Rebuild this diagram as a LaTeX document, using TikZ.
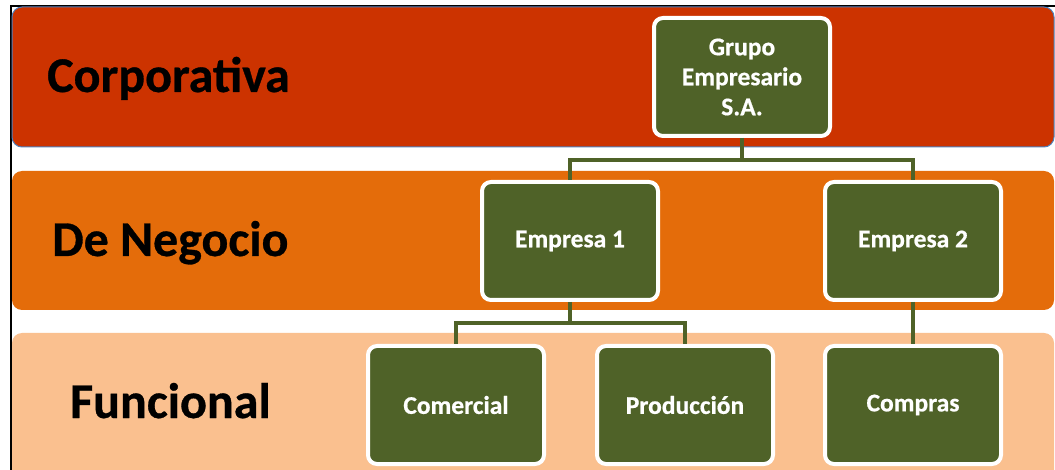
\documentclass[tikz,border=0pt]{standalone}
\usepackage{fontspec}
\newfontfamily\calib{Carlito}[FakeBold=0.6]
\definecolor{bandred}{RGB}{204,51,0}
\definecolor{bandorange}{RGB}{228,108,10}
\definecolor{bandpeach}{RGB}{250,192,143}
\definecolor{boxgreen}{RGB}{79,98,40}
\definecolor{bandline}{RGB}{79,129,189}
\tikzset{
  orgbox/.style={draw=white, line width=4pt, fill=boxgreen, rounded corners=9pt,
    minimum width=176pt, minimum height=118pt, inner sep=0pt,
    text=white, font=\calib\bfseries\fontsize{25.5}{30}\selectfont, align=center},
  conn/.style={draw=boxgreen, line width=4pt},
  level/.style={anchor=base west, text=black, font=\calib\bfseries\fontsize{50}{58}\selectfont, inner sep=0pt},
  band/.style={rounded corners=10pt}
}
\begin{document}
\begin{tikzpicture}[x=1pt,y=-1pt]
\useasboundingbox (0,0) rectangle (1055,470);
\clip (0,0) rectangle (1055,470);
\fill[white] (0,0) rectangle (1055,470);
% frame lines
\draw[black, line width=1.8pt] (11,475) -- (11,6) -- (1060,6);
% bands
\fill[band, bandred, draw=bandline, line width=1pt] (12,7) rectangle (1054,147);
\fill[band, bandorange] (12,171) rectangle (1054,310);
\fill[band, bandpeach] (12,333) rectangle (1054,490);
% level labels
\node[level] (lcorp) at (47,92) {Corporativa};
\node[level] (lneg) at (52,256) {De Negocio};
\node[level] (lfun) at (70,418) {Funcional};
% boxes
\node[orgbox] (grupo) at (742,77) {Grupo\\Empresario\\S.A.};
\node[orgbox] (e1) at (570,241) {Empresa 1};
\node[orgbox] (e2) at (913,241) {Empresa 2};
\node[orgbox] (com) at (456,405) {Comercial};
\node[orgbox] (prod) at (685,405) {Producción};
\node[orgbox] (compras) at (913,405) {Compras};
% connectors
\coordinate (j1) at (742,160);
\coordinate (j2) at (570,323);
\draw[conn] (grupo.south) -- (j1);
\draw[conn] (j1) -| (e1.north);
\draw[conn] (j1) -| (e2.north);
\draw[conn] (e1.south) -- (j2);
\draw[conn] (j2) -| (com.north);
\draw[conn] (j2) -| (prod.north);
\draw[conn] (e2.south) -- (compras.north);
\end{tikzpicture}
\end{document}
